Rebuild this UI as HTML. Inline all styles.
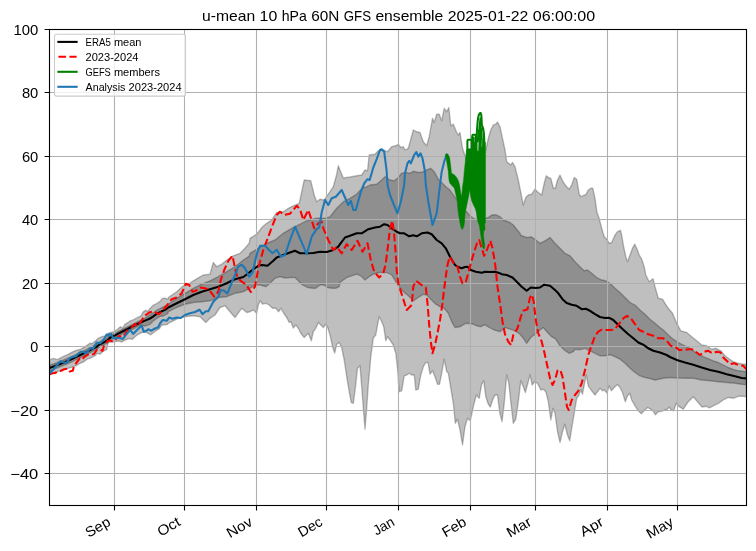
<!DOCTYPE html>
<html><head><meta charset="utf-8"><title>u-mean 10 hPa 60N GFS ensemble</title>
<style>html,body{margin:0;padding:0;background:#fff;font-family:"Liberation Sans",sans-serif}svg{display:block;will-change:transform}</style>
</head><body>
<svg width="756" height="551" viewBox="0 0 756 551" style="display:block">
<defs><clipPath id="ax"><rect x="49.5" y="29.5" width="697.0" height="476.0"/></clipPath></defs>
<rect x="0" y="0" width="756" height="551" fill="#ffffff"/>
<g clip-path="url(#ax)">
<path d="M49.5 359.7 L53.7 358.4 L57.5 359.7 L60.7 357.8 L64.5 355.9 L68.3 354.3 L72.1 352.1 L75.9 350.5 L79.7 349.5 L83.6 347.6 L87.4 345.1 L89.9 343.2 L92.4 343.5 L95.9 340.6 L98.3 338.3 L101.7 336.7 L105.0 335.8 L107.9 333.3 L110.0 332.7 L114.6 331.4 L117.5 329.3 L120.4 326.8 L122.5 328.1 L125.0 324.3 L127.5 322.7 L130.0 321.0 L132.5 320.2 L135.0 318.9 L138.3 317.2 L140.8 316.0 L143.3 311.8 L145.8 310.2 L147.5 311.4 L150.0 308.5 L153.3 305.2 L156.7 303.5 L160.0 301.4 L162.5 298.5 L165.0 298.1 L167.9 299.3 L168.3 297.5 L176.7 291.7 L183.3 285.8 L188.3 284.2 L193.3 280.8 L197.5 278.3 L203.3 275.0 L210.0 274.2 L213.3 262.5 L216.7 266.7 L221.7 264.2 L226.7 260.0 L233.3 255.8 L240.0 253.3 L245.0 248.3 L249.2 243.3 L250.0 238.3 L256.7 234.2 L262.5 226.7 L266.7 223.3 L271.7 220.0 L276.7 212.5 L283.3 211.7 L288.3 208.3 L293.3 205.8 L299.2 203.3 L301.7 191.7 L304.2 180.0 L310.8 180.8 L314.2 195.0 L316.7 201.7 L320.0 199.2 L324.2 200.0 L330.0 191.7 L333.3 186.7 L336.7 174.2 L338.3 165.8 L340.0 170.0 L343.3 178.0 L350.0 177.0 L356.7 175.8 L361.7 175.0 L365.0 170.0 L367.5 170.8 L369.2 155.0 L375.0 154.2 L378.3 150.8 L383.3 150.0 L387.5 151.7 L391.7 146.7 L395.8 145.8 L398.3 144.2 L400.8 147.5 L403.3 146.7 L405.0 150.0 L408.3 148.3 L410.8 139.2 L413.3 130.0 L416.7 131.7 L420.0 132.5 L423.3 141.7 L426.7 145.8 L429.2 136.7 L432.5 118.3 L434.2 122.5 L436.7 114.2 L439.2 114.2 L441.7 120.8 L444.2 108.3 L446.7 111.7 L448.8 107.5 L450.8 125.8 L453.3 124.2 L456.7 132.5 L458.3 135.0 L460.0 132.5 L462.5 148.3 L465.0 155.8 L466.7 160.8 L469.2 166.7 L473.3 171.7 L478.3 170.0 L482.5 161.7 L485.8 150.0 L488.3 138.3 L490.8 130.0 L493.3 125.0 L495.8 124.2 L497.5 122.0 L500.0 126.7 L502.5 138.3 L505.0 150.0 L506.7 161.7 L510.8 165.0 L512.5 162.5 L515.0 166.7 L518.3 180.0 L520.0 188.3 L523.3 205.0 L525.8 197.5 L528.3 195.0 L531.7 194.2 L535.0 189.2 L538.3 192.5 L541.7 195.0 L544.2 183.3 L546.3 175.8 L548.3 177.5 L550.8 178.3 L553.3 188.0 L555.3 188.3 L557.5 180.0 L560.0 175.0 L562.5 180.8 L565.8 185.8 L569.2 189.2 L571.7 185.0 L574.2 177.5 L576.7 179.2 L579.2 194.2 L581.3 196.7 L584.2 195.0 L585.8 194.7 L588.3 190.0 L590.8 188.3 L592.8 188.3 L595.0 198.3 L597.0 212.5 L599.2 218.3 L601.7 228.3 L604.2 236.7 L606.7 239.2 L609.2 243.3 L611.7 242.5 L615.0 235.0 L617.5 231.7 L620.5 230.3 L622.0 236.7 L623.3 245.0 L625.8 256.7 L627.5 261.7 L630.0 255.0 L632.5 248.3 L634.7 244.2 L636.7 248.3 L639.2 255.0 L641.7 259.2 L644.2 266.7 L645.8 275.0 L649.2 281.7 L653.0 278.7 L655.0 286.7 L658.3 298.3 L662.5 299.2 L665.0 303.3 L668.3 308.3 L672.5 313.3 L676.7 323.3 L680.8 330.8 L686.7 332.5 L691.7 336.7 L696.7 340.8 L701.7 345.0 L706.7 345.8 L711.7 349.2 L715.8 348.3 L720.8 350.8 L725.0 355.8 L728.3 358.3 L733.3 361.7 L738.3 363.3 L743.3 364.2 L746.5 364.3 L746.5 396.7 L743.3 396.3 L738.3 396.3 L733.3 398.3 L728.3 397.5 L723.3 400.0 L718.3 403.3 L713.3 405.8 L709.2 408.0 L706.7 406.3 L702.0 407.0 L697.5 401.7 L693.3 396.7 L688.3 401.7 L683.3 409.2 L679.2 406.7 L676.3 403.3 L673.7 410.8 L671.3 410.0 L669.2 407.0 L667.5 409.2 L665.0 410.0 L661.7 411.3 L658.3 411.7 L655.3 414.7 L653.3 411.3 L650.8 409.2 L647.5 407.5 L644.2 410.8 L641.3 413.7 L638.3 410.8 L635.0 405.8 L631.7 400.0 L629.7 393.3 L627.5 395.8 L625.3 401.7 L622.5 392.5 L620.0 387.5 L617.5 384.5 L614.2 387.5 L611.3 390.8 L609.2 385.8 L607.0 393.0 L604.2 390.0 L602.5 390.8 L600.0 388.3 L597.5 391.7 L595.0 395.0 L591.7 390.8 L588.3 385.8 L586.3 375.0 L584.7 382.5 L582.5 394.2 L580.8 390.0 L578.7 395.8 L576.7 398.3 L574.2 413.3 L571.7 428.3 L569.7 440.8 L567.5 435.0 L564.7 424.2 L562.5 431.7 L560.0 442.5 L557.5 431.7 L555.0 413.3 L553.0 408.3 L550.8 420.0 L548.3 401.7 L545.8 391.7 L543.3 389.2 L540.8 390.0 L537.5 383.3 L534.7 381.7 L532.2 385.0 L530.0 374.7 L528.3 381.7 L525.3 392.5 L523.3 386.7 L520.8 380.8 L518.3 401.7 L515.8 419.2 L513.3 423.3 L510.8 401.7 L508.7 382.5 L506.7 375.0 L504.2 403.3 L502.0 421.7 L499.7 412.5 L497.5 395.0 L495.3 394.7 L493.3 398.3 L490.3 407.0 L488.3 404.2 L485.8 396.7 L483.7 380.8 L481.7 384.2 L479.2 398.3 L476.3 395.0 L473.3 406.7 L470.3 420.8 L467.5 418.3 L465.0 426.7 L462.5 445.0 L460.0 430.0 L457.5 419.2 L455.3 423.3 L453.3 403.3 L450.8 388.3 L448.3 373.0 L446.7 371.7 L444.2 359.2 L441.7 373.3 L439.5 384.2 L437.5 384.2 L435.0 376.7 L432.5 370.8 L430.0 374.2 L428.0 362.5 L425.8 362.5 L423.3 366.7 L420.8 375.0 L418.3 389.2 L415.8 390.0 L414.2 374.7 L411.7 375.0 L409.2 373.3 L406.7 375.0 L404.2 375.8 L401.7 390.8 L399.2 391.7 L397.5 368.3 L395.8 353.3 L393.3 345.0 L390.0 340.0 L387.5 336.7 L385.8 340.8 L383.7 326.7 L381.7 321.7 L379.2 316.7 L377.5 325.0 L375.8 335.0 L374.2 336.7 L373.3 338.3 L370.8 356.7 L368.3 385.0 L366.7 408.3 L365.0 429.2 L363.3 408.3 L361.7 386.7 L360.0 365.8 L357.5 368.3 L355.3 388.3 L353.3 403.3 L351.3 402.5 L349.2 391.7 L346.7 376.7 L344.2 360.0 L341.7 347.5 L339.2 342.5 L336.7 344.2 L334.7 353.0 L332.5 346.7 L330.0 335.0 L327.5 326.7 L325.8 324.2 L323.3 327.5 L320.8 325.0 L318.3 322.5 L315.8 328.3 L313.3 331.7 L311.3 340.8 L308.3 333.3 L304.2 337.5 L300.8 333.3 L298.3 328.3 L295.8 325.0 L293.3 328.0 L290.8 321.7 L289.2 322.5 L286.7 317.5 L283.3 312.5 L280.8 308.3 L278.7 311.7 L275.8 308.3 L272.5 308.3 L269.2 305.0 L265.8 303.3 L262.5 304.2 L260.3 300.8 L258.3 305.0 L256.7 313.3 L253.3 310.0 L250.0 311.7 L246.7 312.5 L241.7 308.3 L235.0 317.5 L230.0 311.7 L225.0 305.8 L220.0 307.5 L215.0 315.0 L210.0 318.3 L205.8 322.5 L200.0 316.7 L193.3 315.8 L185.0 316.7 L176.7 319.2 L168.3 323.3 L167.9 324.3 L165.0 324.8 L161.7 325.2 L159.2 328.9 L156.7 330.2 L153.3 332.7 L150.8 334.8 L146.7 332.7 L144.2 331.8 L141.7 332.7 L138.3 334.3 L135.0 336.8 L132.5 339.3 L129.2 338.5 L125.0 340.2 L121.7 341.9 L118.3 341.0 L113.3 341.9 L108.3 342.2 L106.7 349.6 L103.3 351.2 L100.0 354.2 L96.7 353.3 L95.9 355.2 L92.4 357.1 L89.9 358.4 L87.4 359.0 L83.6 361.9 L79.7 363.6 L76.6 365.4 L73.4 366.7 L69.6 367.9 L65.8 368.9 L62.0 370.6 L58.2 371.6 L54.3 372.7 L49.5 374.6 Z" fill="#000" fill-opacity="0.25" stroke="#000" stroke-opacity="0.25" stroke-width="1.39" stroke-linejoin="round"/>
<path d="M49.5 365.1 L54.3 363.6 L60.7 361.1 L67.0 358.5 L73.4 355.7 L79.7 352.6 L86.1 349.7 L92.4 346.2 L95.9 344.6 L100.0 341.5 L105.0 339.0 L107.9 337.5 L110.0 335.3 L114.6 333.5 L120.0 330.6 L125.0 328.1 L130.0 325.6 L135.0 323.1 L140.0 320.6 L145.0 318.1 L150.0 314.8 L153.3 312.7 L156.7 310.2 L160.0 308.5 L163.3 306.8 L167.9 304.3 L168.3 304.2 L176.7 298.3 L185.0 293.3 L193.3 288.3 L201.7 284.2 L210.0 280.8 L218.3 276.7 L226.7 271.7 L235.0 266.7 L243.3 260.0 L249.2 256.3 L250.0 253.3 L258.3 248.3 L266.7 243.3 L275.0 240.0 L283.3 233.3 L291.7 228.3 L300.0 224.2 L308.3 220.0 L316.7 218.3 L325.0 218.3 L330.0 216.7 L336.7 208.3 L343.3 201.7 L350.0 198.3 L356.7 194.2 L363.3 186.7 L365.0 187.5 L370.0 185.0 L376.7 184.2 L381.7 180.0 L385.0 176.7 L390.0 180.0 L394.2 180.8 L397.5 178.3 L401.7 173.3 L405.8 172.5 L410.0 173.3 L413.3 171.3 L418.3 172.5 L422.5 172.0 L426.7 170.0 L430.8 168.3 L434.2 171.7 L438.3 179.2 L443.3 184.2 L446.7 187.5 L449.2 189.2 L458.3 201.7 L470.0 215.8 L475.0 219.2 L483.3 219.2 L488.3 217.5 L491.7 215.0 L495.8 214.7 L500.0 216.7 L503.3 220.0 L510.0 222.5 L513.3 225.0 L516.7 229.2 L520.0 233.3 L520.8 235.3 L526.7 237.5 L531.7 237.0 L535.8 240.0 L540.0 243.3 L545.0 240.8 L550.0 237.5 L555.0 243.3 L560.0 248.3 L565.0 253.3 L570.0 255.8 L575.0 261.7 L580.0 266.7 L584.2 270.8 L587.5 270.0 L591.7 273.3 L596.7 277.5 L601.7 280.0 L605.8 280.8 L610.0 283.3 L615.0 288.3 L620.0 292.5 L625.0 297.5 L630.0 302.5 L635.0 305.0 L640.0 310.0 L645.0 314.2 L650.0 319.2 L655.0 323.3 L660.0 327.5 L663.3 330.0 L668.3 335.0 L673.3 339.2 L678.3 342.5 L683.3 345.0 L688.3 347.5 L693.3 350.8 L698.3 354.2 L703.3 356.7 L708.3 358.7 L713.3 360.8 L718.3 362.5 L723.3 365.0 L728.3 367.5 L733.3 369.5 L738.3 370.8 L746.5 371.8 L746.5 384.8 L741.7 384.2 L735.0 383.3 L726.7 382.5 L718.3 381.7 L710.0 380.8 L701.7 380.0 L693.3 378.3 L685.0 378.3 L677.5 378.0 L670.0 377.5 L663.3 378.3 L655.0 380.0 L650.0 378.7 L645.0 377.5 L640.0 375.8 L635.0 372.5 L630.0 368.3 L625.0 363.3 L620.0 359.2 L615.0 356.7 L610.0 354.7 L605.0 355.8 L600.0 355.8 L595.0 353.3 L590.0 350.8 L585.0 348.3 L580.0 349.7 L575.0 349.2 L573.3 351.7 L569.2 353.3 L564.2 350.0 L560.0 345.8 L555.8 339.2 L551.7 336.7 L547.5 332.5 L543.3 327.5 L539.2 330.8 L535.0 334.2 L530.8 337.5 L526.7 343.3 L523.3 338.3 L520.0 334.2 L515.0 330.8 L510.0 329.2 L505.0 327.5 L500.0 331.7 L494.2 330.0 L489.2 327.5 L485.0 324.7 L480.8 326.7 L476.7 325.8 L471.7 323.7 L465.8 323.3 L460.0 326.7 L455.0 327.5 L451.7 321.7 L448.3 313.3 L444.2 308.3 L440.0 306.7 L435.8 304.2 L430.8 299.2 L426.7 295.0 L423.3 294.2 L418.3 297.5 L413.3 300.8 L408.3 295.8 L403.3 291.7 L399.2 286.7 L395.8 281.7 L391.7 275.0 L386.7 272.5 L379.2 272.5 L373.3 274.2 L369.2 276.7 L365.0 280.0 L360.8 275.8 L356.7 274.2 L351.7 275.8 L346.7 277.5 L340.0 282.5 L339.2 286.7 L335.8 288.3 L331.7 288.3 L327.5 287.5 L323.3 284.7 L320.0 285.0 L315.8 288.3 L312.5 288.3 L307.5 287.5 L302.5 285.0 L298.3 280.8 L295.0 277.5 L290.0 277.5 L285.0 278.0 L280.0 276.7 L275.0 278.3 L270.0 283.3 L265.8 286.7 L260.0 285.0 L255.0 285.0 L250.0 288.3 L249.2 288.7 L243.3 291.7 L235.0 293.3 L226.7 296.7 L218.3 297.5 L210.0 300.8 L201.7 301.7 L193.3 302.5 L185.0 304.2 L176.7 307.5 L168.3 311.7 L167.9 313.5 L163.3 316.0 L160.0 316.4 L156.7 318.5 L153.3 321.0 L150.0 324.3 L145.0 326.0 L140.0 325.2 L135.0 328.1 L130.0 330.6 L125.0 332.7 L120.0 335.2 L114.6 337.7 L110.0 340.0 L107.9 342.7 L105.0 344.3 L100.0 346.8 L95.9 350.0 L92.4 351.6 L86.1 355.0 L79.7 357.9 L73.4 361.1 L67.0 364.0 L60.7 366.5 L54.3 369.1 L49.5 370.8 Z" fill="#000" fill-opacity="0.25" stroke="#000" stroke-opacity="0.25" stroke-width="1.39" stroke-linejoin="round"/>
<path d="M114.5 29.5 V505.5 M184.5 29.5 V505.5 M256.5 29.5 V505.5 M326.5 29.5 V505.5 M398.5 29.5 V505.5 M470.5 29.5 V505.5 M535.5 29.5 V505.5 M607.5 29.5 V505.5 M677.5 29.5 V505.5 M49.5 92.5 H746.5 M49.5 156.5 H746.5 M49.5 219.5 H746.5 M49.5 283.5 H746.5 M49.5 346.5 H746.5 M49.5 410.5 H746.5 M49.5 473.5 H746.5" stroke="#b0b0b0" stroke-width="1.1" fill="none"/>
<path d="M49.5 367.9 L54.3 366.3 L60.7 363.8 L67.0 361.3 L73.4 358.4 L79.7 355.2 L86.1 352.4 L92.4 348.9 L95.9 347.3 L100.0 344.2 L105.0 341.7 L107.9 340.0 L110.0 337.7 L114.6 335.6 L120.0 332.7 L125.0 330.2 L130.0 327.7 L135.0 325.2 L140.0 322.7 L145.0 320.6 L150.0 318.5 L153.3 316.4 L156.7 313.9 L160.0 312.2 L163.3 310.6 L165.8 309.5 L168.3 307.5 L176.7 303.3 L185.0 299.2 L193.3 295.0 L201.7 291.7 L210.0 289.2 L218.3 286.7 L226.7 283.3 L235.0 279.2 L243.3 277.0 L248.3 273.3 L253.3 269.2 L258.3 265.8 L261.7 265.0 L267.5 265.8 L273.3 260.8 L276.7 257.5 L283.3 255.0 L290.0 252.5 L295.0 250.8 L300.0 253.3 L306.7 253.3 L313.3 253.0 L320.0 251.7 L326.7 252.0 L333.3 250.0 L338.3 246.7 L340.0 244.2 L345.0 237.5 L350.0 235.8 L356.7 233.3 L361.7 233.3 L368.3 229.2 L375.0 227.5 L380.0 226.7 L384.2 224.2 L387.5 225.0 L391.7 228.3 L396.7 231.7 L400.0 233.3 L404.2 233.3 L409.2 236.3 L413.3 235.3 L416.7 236.3 L421.7 233.3 L427.5 232.5 L431.7 234.2 L436.7 240.0 L441.7 243.3 L445.8 248.3 L450.0 256.7 L455.0 265.0 L457.5 266.7 L461.7 268.3 L465.0 267.0 L467.5 266.7 L470.8 270.0 L475.8 271.7 L481.7 272.8 L485.0 271.7 L490.0 272.0 L495.0 271.7 L500.0 273.3 L501.7 274.2 L506.7 275.0 L512.5 277.5 L517.5 282.5 L521.7 286.7 L526.7 290.8 L530.8 287.5 L535.8 288.0 L540.0 287.5 L544.2 284.7 L550.0 285.8 L555.0 290.0 L558.3 293.3 L562.5 299.2 L566.7 303.0 L571.7 304.7 L576.7 305.8 L581.7 309.2 L585.8 308.7 L590.0 310.8 L595.0 314.2 L600.0 317.0 L605.0 318.0 L609.2 317.8 L613.3 320.0 L618.3 325.0 L623.3 329.7 L628.3 334.2 L633.3 338.3 L638.3 342.5 L643.3 344.7 L648.3 348.3 L653.3 350.8 L660.0 352.5 L666.7 355.0 L670.0 357.0 L677.5 360.3 L685.0 362.5 L693.3 364.7 L701.7 367.5 L710.0 370.0 L718.3 371.7 L726.7 374.2 L735.0 376.3 L741.7 378.0 L746.5 378.5" fill="none" stroke="#000" stroke-width="2.08" stroke-linejoin="round" stroke-linecap="square"/>
<path d="M49.5 374.3 L52.4 373.3 L55.0 373.0 L59.1 371.1 L61.7 370.5 L64.2 369.2 L67.7 368.6 L69.6 371.4 L72.8 370.8 L74.0 366.0 L75.9 363.5 L77.8 361.0 L79.7 358.4 L81.7 359.7 L84.5 356.8 L87.7 354.6 L90.5 355.2 L94.2 353.8 L96.7 350.0 L99.6 349.2 L102.5 350.8 L103.8 346.2 L107.9 340.8 L110.0 340.6 L113.3 341.7 L116.7 338.5 L119.2 336.0 L122.9 337.2 L127.1 331.0 L130.0 329.3 L135.0 323.9 L137.1 326.0 L138.3 325.2 L142.1 319.8 L144.2 316.0 L150.0 312.2 L153.8 311.4 L158.3 314.2 L160.0 313.3 L166.7 305.8 L171.7 299.2 L176.7 297.5 L181.7 293.3 L185.8 283.7 L189.2 285.0 L192.5 291.7 L195.8 290.8 L200.0 287.5 L205.0 288.3 L209.2 290.0 L214.2 296.7 L218.3 291.7 L220.8 280.0 L224.2 270.0 L228.3 260.8 L232.5 255.8 L235.0 268.3 L237.5 277.5 L241.7 281.7 L245.8 284.2 L250.8 292.0 L255.0 286.7 L258.3 268.3 L260.0 261.8 L263.3 250.0 L268.3 236.7 L273.3 223.3 L276.7 215.0 L280.0 211.7 L284.2 215.0 L290.0 213.7 L296.7 205.8 L300.0 209.2 L303.3 220.0 L308.3 210.0 L314.2 228.3 L318.3 223.3 L321.7 221.7 L323.3 228.3 L328.3 240.0 L333.3 250.0 L336.7 246.7 L341.7 253.3 L346.7 244.2 L351.7 250.0 L357.5 240.8 L362.5 251.7 L367.5 243.3 L370.8 260.0 L374.2 271.7 L379.2 277.5 L383.3 273.3 L385.8 263.3 L388.3 243.3 L390.0 228.3 L392.5 220.8 L394.2 235.0 L395.8 255.0 L396.7 270.0 L398.3 283.3 L402.5 296.7 L406.7 310.0 L411.7 305.0 L413.3 286.7 L415.8 280.8 L421.7 285.0 L425.8 287.5 L427.5 303.3 L429.2 325.0 L430.8 341.7 L432.5 353.3 L435.0 345.0 L437.5 333.3 L440.0 320.0 L442.5 303.3 L444.2 288.3 L446.7 270.0 L447.5 265.0 L449.7 256.7 L451.7 260.0 L454.2 264.2 L457.5 266.7 L460.0 276.8 L462.5 283.3 L465.8 281.7 L468.3 273.3 L470.8 263.3 L474.2 251.7 L477.5 241.7 L479.2 240.0 L481.7 248.3 L484.2 255.8 L487.5 248.3 L490.3 240.8 L492.5 248.3 L495.0 263.3 L495.8 270.0 L497.5 286.7 L500.0 303.3 L502.5 321.7 L505.0 334.2 L508.3 341.7 L511.2 345.0 L513.3 335.0 L517.5 328.3 L520.8 316.7 L523.3 310.8 L527.5 309.2 L530.0 297.5 L532.0 294.7 L533.7 301.7 L535.8 320.0 L538.3 333.3 L541.7 341.7 L544.2 351.7 L547.5 366.7 L550.0 378.3 L552.5 385.0 L555.0 380.0 L557.5 370.8 L560.3 370.0 L562.5 376.7 L565.0 393.3 L567.0 406.7 L568.7 410.0 L571.7 400.0 L575.0 395.0 L578.3 390.8 L581.7 383.3 L585.0 370.0 L588.3 355.0 L591.7 345.0 L595.0 335.8 L598.3 331.7 L601.7 329.7 L605.8 330.0 L610.0 330.0 L614.2 329.7 L618.3 325.0 L623.3 318.3 L627.0 315.8 L630.8 318.3 L635.0 324.2 L639.2 330.0 L643.3 331.7 L648.3 334.2 L653.3 335.8 L658.3 338.3 L663.3 338.3 L667.5 341.7 L670.8 345.8 L675.0 346.7 L679.2 350.0 L683.3 350.0 L689.2 349.2 L691.7 349.2 L695.8 351.7 L700.0 355.0 L704.2 351.7 L708.3 350.8 L712.5 353.3 L716.7 351.7 L720.8 352.5 L723.3 357.5 L726.7 360.8 L730.0 364.2 L734.2 363.3 L738.3 365.0 L743.3 365.8 L746.5 369.3" fill="none" stroke="#ff0000" stroke-width="2.08" stroke-dasharray="7.7 3.33" stroke-linejoin="round"/>
<path d="M49.5 373.7 L53.1 369.8 L56.3 366.0 L60.1 361.3 L63.2 362.2 L66.7 362.9 L69.9 358.1 L73.4 356.8 L75.9 356.2 L79.1 353.0 L81.0 351.7 L83.6 351.7 L86.1 353.7 L88.6 350.2 L90.5 348.3 L93.1 348.6 L95.9 344.1 L96.7 342.5 L100.0 343.3 L102.5 341.2 L105.0 337.5 L106.7 334.6 L107.9 335.8 L109.2 334.3 L111.2 333.9 L113.3 338.5 L115.8 338.1 L118.3 337.7 L122.9 338.9 L125.8 335.2 L130.0 329.8 L133.3 333.9 L136.7 330.2 L141.7 325.6 L143.8 331.8 L146.7 330.6 L148.3 329.3 L151.2 330.6 L155.0 328.5 L158.3 327.2 L160.0 323.5 L162.5 320.2 L163.3 320.0 L166.7 320.8 L169.2 317.5 L172.5 318.7 L176.7 317.5 L180.8 318.0 L185.0 315.0 L190.0 313.3 L195.0 312.0 L199.5 309.7 L202.5 314.2 L205.8 311.3 L208.3 311.3 L213.3 301.7 L218.3 296.7 L220.8 290.0 L224.2 290.8 L227.5 293.3 L231.7 282.5 L235.0 275.0 L238.3 266.7 L241.7 264.7 L245.0 268.3 L249.2 276.7 L252.5 272.5 L255.8 258.3 L257.5 251.7 L260.0 245.8 L265.0 245.8 L268.3 249.2 L272.5 253.3 L276.7 249.7 L280.8 256.7 L285.0 255.0 L290.0 240.0 L295.0 226.7 L300.0 238.3 L306.7 254.2 L311.7 236.7 L316.7 229.2 L319.2 227.5 L321.7 212.5 L325.0 200.0 L328.3 205.0 L331.7 198.3 L335.8 196.7 L341.7 190.0 L348.3 205.0 L350.8 200.8 L353.3 210.0 L355.8 210.0 L360.0 195.0 L360.8 191.8 L364.2 183.3 L367.5 179.2 L369.7 180.0 L373.3 167.5 L376.7 159.2 L380.0 150.0 L381.7 149.2 L384.2 151.7 L386.7 171.7 L387.5 185.0 L390.0 195.0 L393.3 203.3 L397.5 213.3 L400.8 201.7 L404.2 185.0 L405.0 173.3 L407.5 163.3 L409.2 160.8 L410.8 163.3 L414.2 155.0 L416.3 152.0 L418.3 156.7 L420.5 153.3 L422.5 158.3 L425.0 171.7 L425.8 185.0 L428.3 201.7 L432.5 225.0 L436.7 213.3 L440.0 185.0 L441.7 171.7 L444.2 161.7 L446.7 154.7" fill="none" stroke="#1f77b4" stroke-width="2.08" stroke-linejoin="round" stroke-linecap="square"/>
<path d="M445.5 154.7 L446.4 153.9 L448.0 154.3 L449.6 157.6 L450.3 162.7 L450.9 167.8 L451.5 173.4 L453.1 174.0 L455.0 175.4 L456.9 177.9 L458.5 181.1 L459.8 186.3 L460.7 192.7 L461.4 196.8 L462.0 192.7 L462.6 186.3 L463.6 180.0 L464.2 172.2 L465.2 162.7 L465.8 156.3 L466.4 150.5 L467.0 148.8 L471.0 148.8 L472.5 146.5 L476.0 146.5 L476.8 150.5 L479.3 152.0 L480.0 148.5 L482.0 146.5 L485.4 142.0 L485.5 160.0 L485.5 210.0 L485.4 222.0 L484.8 224.5 L485.0 229.8 L483.7 231.0 L483.4 235.0 L484.1 241.0 L484.8 246.0 L484.3 248.8 L483.2 248.4 L482.6 247.0 L481.6 240.5 L480.5 232.9 L479.3 225.2 L477.8 221.4 L477.0 217.6 L476.3 212.0 L475.3 208.6 L473.7 205.4 L471.8 201.0 L470.6 195.9 L469.6 189.5 L468.7 195.9 L467.4 202.2 L466.1 208.6 L465.6 210.0 L464.9 216.1 L464.5 222.2 L463.7 226.8 L462.2 229.6 L461.0 227.5 L459.9 222.2 L458.8 216.1 L458.2 211.7 L457.6 205.4 L456.9 199.0 L455.7 194.0 L454.4 188.3 L452.2 185.7 L449.9 183.2 L449.0 180.0 L448.6 175.4 L448.3 171.0 L447.4 165.9 L446.4 159.5 L445.5 156.0 Z" fill="#008000" stroke="#008000" stroke-width="0.5" stroke-linejoin="round"/>
<path d="M467.4 152.0 L467.4 141.2 L467.9 139.7 L471.2 139.7 L471.8 141.2 L471.9 152.0" fill="none" stroke="#008000" stroke-width="2.08" stroke-linejoin="round" stroke-linecap="round"/>
<path d="M472.2 150.0 L472.2 136.2 L472.7 134.8 L475.5 134.8 L476.0 137.0 L476.2 150.0" fill="none" stroke="#008000" stroke-width="2.08" stroke-linejoin="round" stroke-linecap="round"/>
<path d="M473.6 150.0 L473.7 137.5" fill="none" stroke="#008000" stroke-width="2.08" stroke-linejoin="round" stroke-linecap="round"/>
<path d="M475.0 150.0 L475.0 142.5" fill="none" stroke="#008000" stroke-width="2.08" stroke-linejoin="round" stroke-linecap="round"/>
<path d="M479.2 152.0 L479.6 140.0 L480.4 128.0 L481.0 121.0" fill="none" stroke="#008000" stroke-width="2.08" stroke-linejoin="round" stroke-linecap="round"/>
<path d="M476.4 152.0 L476.5 139.0 L477.0 130.0 L477.8 120.0 L478.8 114.8 L480.0 113.0 L480.7 113.0 L481.3 115.0 L481.6 120.0 L481.8 125.0 L483.2 128.6 L483.8 133.0 L484.2 138.0 L484.4 150.0" fill="none" stroke="#008000" stroke-width="2.08" stroke-linejoin="round" stroke-linecap="round"/>
<path d="M477.7 141.5 L478.4 136.0 L479.2 130.5 L479.8 125.0 L480.5 118.5" fill="none" stroke="#008000" stroke-width="2.08" stroke-linejoin="round" stroke-linecap="round"/>
<path d="M480.4 152.0 L480.9 140.0 L481.5 131.0 L482.2 128.2" fill="none" stroke="#008000" stroke-width="2.08" stroke-linejoin="round" stroke-linecap="round"/>
<path d="M483.0 152.0 L483.2 140.0 L483.6 134.0" fill="none" stroke="#008000" stroke-width="2.08" stroke-linejoin="round" stroke-linecap="round"/>
</g>
<rect x="49.5" y="29.5" width="697.0" height="476.0" fill="none" stroke="#000" stroke-width="1.1"/>
<path d="M114.5 505.5 v4.9 M184.5 505.5 v4.9 M256.5 505.5 v4.9 M326.5 505.5 v4.9 M398.5 505.5 v4.9 M470.5 505.5 v4.9 M535.5 505.5 v4.9 M607.5 505.5 v4.9 M677.5 505.5 v4.9 M49.5 29.5 h-4.9 M49.5 92.5 h-4.9 M49.5 156.5 h-4.9 M49.5 219.5 h-4.9 M49.5 283.5 h-4.9 M49.5 346.5 h-4.9 M49.5 410.5 h-4.9 M49.5 473.5 h-4.9" stroke="#000" stroke-width="1.1" fill="none"/>
<text x="38.3" y="34.7" font-family="Liberation Sans, sans-serif" font-size="14.2" text-anchor="end" textLength="24.8" lengthAdjust="spacingAndGlyphs" fill="#000">100</text>
<text x="38.3" y="97.7" font-family="Liberation Sans, sans-serif" font-size="14.2" text-anchor="end" textLength="16.4" lengthAdjust="spacingAndGlyphs" fill="#000">80</text>
<text x="38.3" y="161.7" font-family="Liberation Sans, sans-serif" font-size="14.2" text-anchor="end" textLength="16.4" lengthAdjust="spacingAndGlyphs" fill="#000">60</text>
<text x="38.3" y="224.7" font-family="Liberation Sans, sans-serif" font-size="14.2" text-anchor="end" textLength="16.4" lengthAdjust="spacingAndGlyphs" fill="#000">40</text>
<text x="38.3" y="288.7" font-family="Liberation Sans, sans-serif" font-size="14.2" text-anchor="end" textLength="16.4" lengthAdjust="spacingAndGlyphs" fill="#000">20</text>
<text x="38.3" y="351.7" font-family="Liberation Sans, sans-serif" font-size="14.2" text-anchor="end" textLength="8.0" lengthAdjust="spacingAndGlyphs" fill="#000">0</text>
<text x="38.3" y="415.7" font-family="Liberation Sans, sans-serif" font-size="14.2" text-anchor="end" textLength="28.0" lengthAdjust="spacingAndGlyphs" fill="#000">−20</text>
<text x="38.3" y="478.7" font-family="Liberation Sans, sans-serif" font-size="14.2" text-anchor="end" textLength="28.0" lengthAdjust="spacingAndGlyphs" fill="#000">−40</text>
<text transform="translate(111.5,524.7) rotate(-30)" font-family="Liberation Sans, sans-serif" font-size="14.2" text-anchor="end" textLength="26.2" lengthAdjust="spacingAndGlyphs" fill="#000">Sep</text>
<text transform="translate(181.5,524.7) rotate(-30)" font-family="Liberation Sans, sans-serif" font-size="14.2" text-anchor="end" textLength="24.0" lengthAdjust="spacingAndGlyphs" fill="#000">Oct</text>
<text transform="translate(253.5,524.7) rotate(-30)" font-family="Liberation Sans, sans-serif" font-size="14.2" text-anchor="end" textLength="27.1" lengthAdjust="spacingAndGlyphs" fill="#000">Nov</text>
<text transform="translate(323.5,524.7) rotate(-30)" font-family="Liberation Sans, sans-serif" font-size="14.2" text-anchor="end" textLength="25.5" lengthAdjust="spacingAndGlyphs" fill="#000">Dec</text>
<text transform="translate(395.5,524.7) rotate(-30)" font-family="Liberation Sans, sans-serif" font-size="14.2" text-anchor="end" textLength="22.0" lengthAdjust="spacingAndGlyphs" fill="#000">Jan</text>
<text transform="translate(467.5,524.7) rotate(-30)" font-family="Liberation Sans, sans-serif" font-size="14.2" text-anchor="end" textLength="25.5" lengthAdjust="spacingAndGlyphs" fill="#000">Feb</text>
<text transform="translate(532.5,524.7) rotate(-30)" font-family="Liberation Sans, sans-serif" font-size="14.2" text-anchor="end" textLength="26.0" lengthAdjust="spacingAndGlyphs" fill="#000">Mar</text>
<text transform="translate(604.5,524.7) rotate(-30)" font-family="Liberation Sans, sans-serif" font-size="14.2" text-anchor="end" textLength="24.5" lengthAdjust="spacingAndGlyphs" fill="#000">Apr</text>
<text transform="translate(674.5,524.7) rotate(-30)" font-family="Liberation Sans, sans-serif" font-size="14.2" text-anchor="end" textLength="28.5" lengthAdjust="spacingAndGlyphs" fill="#000">May</text>
<text x="202.0" y="21.3" font-family="Liberation Sans, sans-serif" font-size="14.2" textLength="53.2" lengthAdjust="spacingAndGlyphs" fill="#000">u-mean</text>
<text x="259.6" y="21.3" font-family="Liberation Sans, sans-serif" font-size="14.2" textLength="17.7" lengthAdjust="spacingAndGlyphs" fill="#000">10</text>
<text x="281.7" y="21.3" font-family="Liberation Sans, sans-serif" font-size="14.2" textLength="25.1" lengthAdjust="spacingAndGlyphs" fill="#000">hPa</text>
<text x="311.2" y="21.3" font-family="Liberation Sans, sans-serif" font-size="14.2" textLength="28.1" lengthAdjust="spacingAndGlyphs" fill="#000">60N</text>
<text x="343.7" y="21.3" font-family="Liberation Sans, sans-serif" font-size="14.2" textLength="27.3" lengthAdjust="spacingAndGlyphs" fill="#000">GFS</text>
<text x="375.4" y="21.3" font-family="Liberation Sans, sans-serif" font-size="14.2" textLength="67.9" lengthAdjust="spacingAndGlyphs" fill="#000">ensemble</text>
<text x="447.7" y="21.3" font-family="Liberation Sans, sans-serif" font-size="14.2" textLength="80.7" lengthAdjust="spacingAndGlyphs" fill="#000">2025-01-22</text>
<text x="532.8" y="21.3" font-family="Liberation Sans, sans-serif" font-size="14.2" textLength="62.4" lengthAdjust="spacingAndGlyphs" fill="#000">06:00:00</text>
<rect x="54.5" y="34.3" width="131" height="61.8" rx="2" ry="2" fill="#fff" fill-opacity="0.8" stroke="#cccccc" stroke-width="1.1"/>
<path d="M58.4 41.9 H76.6" stroke="#000" stroke-width="2.08" stroke-linecap="square" fill="none"/>
<text x="85.5" y="46.4" font-family="Liberation Sans, sans-serif" font-size="10.1" textLength="25.3" lengthAdjust="spacingAndGlyphs" fill="#000">ERA5</text>
<text x="113.9" y="46.4" font-family="Liberation Sans, sans-serif" font-size="10.1" textLength="27.6" lengthAdjust="spacingAndGlyphs" fill="#000">mean</text>
<path d="M58.4 56.8 H76.6" stroke="#ff0000" stroke-width="2.08" stroke-dasharray="7.7 3.33" fill="none"/>
<text x="85.5" y="61.3" font-family="Liberation Sans, sans-serif" font-size="10.1" textLength="53.0" lengthAdjust="spacingAndGlyphs" fill="#000">2023-2024</text>
<path d="M58.4 71.8 H76.6" stroke="#008000" stroke-width="2.08" stroke-linecap="square" fill="none"/>
<text x="85.5" y="76.3" font-family="Liberation Sans, sans-serif" font-size="10.1" textLength="25.3" lengthAdjust="spacingAndGlyphs" fill="#000">GEFS</text>
<text x="113.9" y="76.3" font-family="Liberation Sans, sans-serif" font-size="10.1" textLength="46.1" lengthAdjust="spacingAndGlyphs" fill="#000">members</text>
<path d="M58.4 86.8 H76.6" stroke="#1f77b4" stroke-width="2.08" stroke-linecap="square" fill="none"/>
<text x="85.5" y="91.2" font-family="Liberation Sans, sans-serif" font-size="10.1" textLength="40.0" lengthAdjust="spacingAndGlyphs" fill="#000">Analysis</text>
<text x="128.6" y="91.2" font-family="Liberation Sans, sans-serif" font-size="10.1" textLength="53.0" lengthAdjust="spacingAndGlyphs" fill="#000">2023-2024</text>
</svg>
</body></html>
